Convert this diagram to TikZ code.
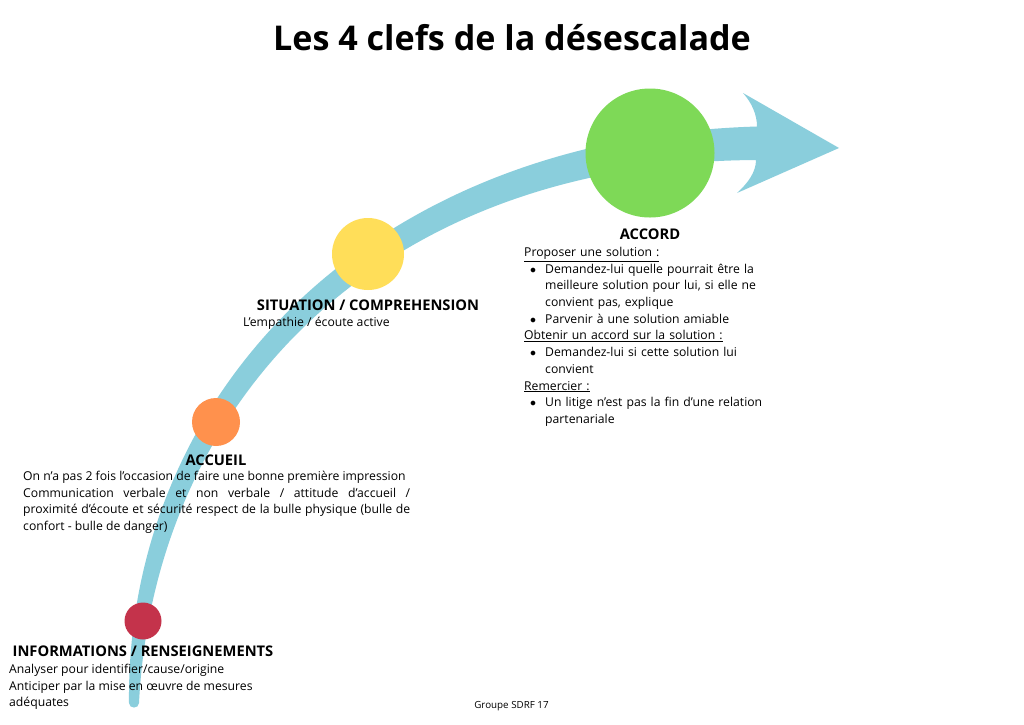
\documentclass[tikz,border=0pt]{standalone}
\usepackage{fontspec}
\setmainfont{Open Sans}
\usetikzlibrary{positioning}

\definecolor{bandblue}{RGB}{138,206,220}
\definecolor{infored}{RGB}{196,51,75}
\definecolor{accorange}{RGB}{255,145,77}
\definecolor{situyellow}{RGB}{255,222,89}
\definecolor{accgreen}{RGB}{126,217,87}

\newenvironment{puces}{\begin{list}{\(\bullet\)}{\setlength{\leftmargin}{21pt}\setlength{\labelsep}{9pt}%
  \setlength{\itemsep}{0pt}\setlength{\topsep}{0pt}\setlength{\parsep}{0pt}\setlength{\partopsep}{0pt}}}{\end{list}}

\tikzset{
  stage/.style={circle, inner sep=0pt},
  heading/.style={inner sep=0pt, font=\fontsize{14.7}{16}\selectfont\bfseries},
  body/.style={inner sep=0pt, anchor=north west, align=left, font=\fontsize{12.2}{16.7}\selectfont},
}

\begin{document}
\begin{tikzpicture}[x=1pt, y=-1pt]
	\fill[white] (0,0) rectangle (1024,724);
	\useasboundingbox (0,0) rectangle (1024,724);
	\node[font=\fontsize{34.1}{40}\selectfont\bfseries] (title) at (512,38) {Les 4 clefs de la désescalade};
	% the widening band and its head
	\fill[bandblue] (129,703) .. controls (126,398) and (365,138) .. (757,126.5)
		.. controls (757,115) and (752,103) .. (743,93) -- (839,148) -- (737,193)
		.. controls (748,183) and (756,172) .. (756,160)
		.. controls (375,162) and (154,406) .. (139,703)
		.. controls (139,709) and (129,709) .. (129,703) -- cycle;
	\node[stage, fill=infored, minimum size=37pt] (info) at (143,621) {};
	\node[stage, fill=accorange, minimum size=48pt] (accueil) at (216,422) {};
	\node[stage, fill=situyellow, minimum size=72pt] (situation) at (368,254) {};
	\node[stage, fill=accgreen, minimum size=129pt] (accord) at (650,153) {};
	\node[heading, below=6pt of info] (infotitle) {INFORMATIONS / RENSEIGNEMENTS};
	\node[heading, below=8pt of accueil] (accueiltitle) {ACCUEIL};
	\node[heading, below=9pt of situation] (situationtitle) {SITUATION / COMPREHENSION};
	\node[heading, below=11pt of accord] (accordtitle) {ACCORD};
	\node[body] (infotext) at (9,664) {Analyser pour identifier/cause/origine\\Anticiper par la mise en œuvre de mesures\\adéquates};
	\node[body, text width=387pt, align=justify] (accueiltext) at (23,471) {On n’a pas 2 fois l’occasion de faire une bonne première impression\\
		Communication verbale et non verbale / attitude d’accueil /\linebreak proximité d’écoute et sécurité respect de la bulle physique (bulle de\linebreak confort - bulle de danger)};
	\node[body, anchor=west] (situationtext) at (243,323) {L’empathie / écoute active};
	\node[body, text width=270pt] (accordtext) at (524,247) {\underline{Proposer une solution :}
		\begin{puces}
		\item Demandez-lui quelle pourrait être la\newline meilleure solution pour lui, si elle ne\newline convient pas, explique
		\item Parvenir à une solution amiable
		\end{puces}
		\underline{Obtenir un accord sur la solution :}
		\begin{puces}
		\item Demandez-lui si cette solution lui\newline convient
		\end{puces}
		\underline{Remercier :}
		\begin{puces}
		\item Un litige n’est pas la fin d’une relation\newline partenariale
		\end{puces}};
	\node[font=\fontsize{9.8}{11}\selectfont] (groupe) at (511.5,706) {Groupe SDRF 17};
\end{tikzpicture}
\end{document}
